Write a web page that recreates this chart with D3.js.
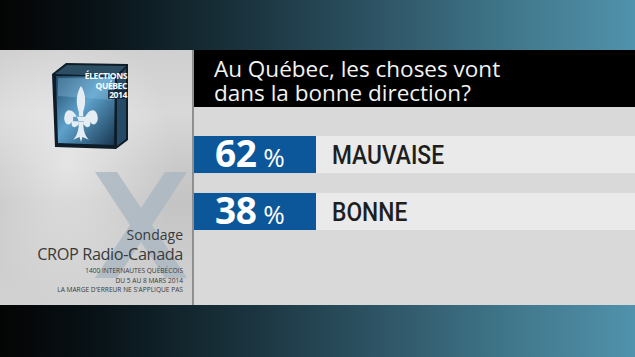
<!DOCTYPE html>
<html><head><meta charset="utf-8">
<script src="https://cdn.jsdelivr.net/npm/d3@7"></script>
<style>html,body{margin:0;padding:0;background:#000;}svg{display:block;}</style>
</head><body>
<script>
const categories = ["MAUVAISE", "BONNE"];
const values = [62, 38];
const titleLines = ["Au Québec, les choses vont", "dans la bonne direction?"];
const sourceLines = ["Sondage", "CROP Radio-Canada"];
const noteLines = ["1400 INTERNAUTES QUÉBÉCOIS", "DU 5 AU 8 MARS 2014", "LA MARGE D'ERREUR NE S'APPLIQUE PAS"];
const logoLines = ["ÉLECTIONS", "QUÉBEC", "2014"];

(function () {
const W = 635, H = 357;
const svg = d3.select("body").append("svg").attr("width", W).attr("height", H);
const defs = svg.append("defs");

const bg = defs.append("linearGradient").attr("id", "bg").attr("x1", 0).attr("x2", 1).attr("y1", 0).attr("y2", 0);
[[0, "#040404"], [0.15, "#081217"], [0.4, "#1b3540"], [0.6, "#2e5566"], [0.8, "#40768a"], [1, "#5192ac"]]
  .forEach(([o, c]) => bg.append("stop").attr("offset", o).attr("stop-color", c));
svg.append("rect").attr("width", W).attr("height", H).attr("fill", "url(#bg)");

const lp = defs.append("linearGradient").attr("id", "lp").attr("x1", 0).attr("x2", 0).attr("y1", 0).attr("y2", 1);
[[0, "#d0d0d0"], [0.25, "#d8d8d8"], [0.45, "#cacaca"], [0.6, "#c4c4c4"], [0.8, "#cccccc"], [1, "#d2d2d2"]]
  .forEach(([o, c]) => lp.append("stop").attr("offset", o).attr("stop-color", c));
const lpr = defs.append("radialGradient").attr("id", "lpr").attr("cx", 0.35).attr("cy", 0.45).attr("r", 0.55);
lpr.append("stop").attr("offset", 0).attr("stop-color", "#ffffff").attr("stop-opacity", 0.5);
lpr.append("stop").attr("offset", 1).attr("stop-color", "#ffffff").attr("stop-opacity", 0);

const y0 = 50, y1 = 305, split = 194;
svg.append("rect").attr("x", 0).attr("y", y0).attr("width", split).attr("height", y1 - y0).attr("fill", "url(#lp)");
svg.append("rect").attr("x", 0).attr("y", y0).attr("width", split).attr("height", y1 - y0).attr("fill", "url(#lpr)");
svg.append("rect").attr("x", split - 2).attr("y", y0).attr("width", 2).attr("height", y1 - y0).attr("fill", "#8f8f8f");

// right panel
svg.append("rect").attr("x", split).attr("y", y0).attr("width", W - split).attr("height", y1 - y0).attr("fill", "#d9d9d9");
svg.append("rect").attr("x", split).attr("y", y0).attr("width", W - split).attr("height", 57).attr("fill", "#000");
svg.append("g").selectAll("text").data(titleLines).join("text")
  .attr("x", 214).attr("y", (d, i) => 77 + i * 24)
  .attr("fill", "#f2f2f2").attr("font-family", "'Open Sans', sans-serif").attr("font-size", 22.5)
  .text(d => d);

// bars
const y = d3.scaleBand().domain(categories).range([136, 230]).paddingInner(0.35);
const bw = y.bandwidth();
const rows = svg.append("g").selectAll("g").data(categories).join("g")
  .attr("transform", d => `translate(0,${y(d)})`);
rows.append("rect").attr("x", split).attr("width", W - split).attr("height", bw).attr("fill", "#eaeaea");
rows.append("rect").attr("x", split).attr("width", 122).attr("height", bw).attr("fill", "#0b5799");
rows.append("text").attr("x", 215).attr("y", bw * 0.85)
  .attr("fill", "#fff").attr("font-family", "'Open Sans', sans-serif")
  .each(function (d, i) {
    const t = d3.select(this);
    t.append("tspan").attr("font-size", 37).attr("font-weight", 700).attr("letter-spacing", -0.5).text(values[i]);
    t.append("tspan").attr("dx", 7).attr("font-size", 26).text("%");
  });
rows.append("text").attr("transform", `translate(332,${bw * 0.76}) scale(0.86,1)`)
  .attr("fill", "#1e1e1e").attr("font-family", "Roboto, sans-serif").attr("font-weight", 500).attr("font-size", 26.5)
  .text(d => d);

// big decorative X (graphic watermark)
svg.append("path")
  .attr("d", "M95,172 L117,172 L141,208 L165,172 L187,172 L152,225 L187,278 L165,278 L141,242 L117,278 L95,278 L130,225 Z")
  .attr("fill", "#a9b6c2").attr("opacity", 0.8);

// logo cube
const lg = svg.append("g");
const cube = defs.append("linearGradient").attr("id", "cube").attr("x1", 0).attr("x2", 1).attr("y1", 0).attr("y2", 1);
cube.append("stop").attr("offset", 0).attr("stop-color", "#1f4866");
cube.append("stop").attr("offset", 0.45).attr("stop-color", "#5ea2cc");
cube.append("stop").attr("offset", 1).attr("stop-color", "#173650");
lg.append("path").attr("d", "M52,74 L66,63 L128,64 L128,140 L116,149 L55,147 Z").attr("fill", "#0e1c28");
lg.append("path").attr("d", "M56,76 L115,77 L114,145 L58,143 Z").attr("fill", "url(#cube)");
lg.append("path").attr("d", "M58,78 L112,79 L112,100 L58,96 Z").attr("fill", "#8cc4e6").attr("opacity", 0.35);
lg.append("path").attr("d", "M55,74 L67,65 L126,66 L115,76 Z").attr("fill", "#3b6580").attr("opacity", 0.7);
lg.append("path").attr("d", "M117,78 L126,68 L126,139 L117,146 Z").attr("fill", "#2c5676").attr("opacity", 0.8);
lg.append("path")
  .attr("transform", "translate(63,86) scale(0.36,0.56)")
  .attr("fill", "#e4edf4")
  .attr("d", "M50,0 C38,12 34,28 44,46 L44,54 L56,54 L56,46 C66,28 62,12 50,0 Z " +
    "M42,60 C30,40 8,38 4,54 C0,66 16,74 24,64 C22,74 32,78 44,68 Z " +
    "M58,60 C70,40 92,38 96,54 C100,66 84,74 76,64 C78,74 68,78 56,68 Z " +
    "M28,55 L72,55 L72,63 L28,63 Z " +
    "M44,64 C44,80 38,90 28,96 L46,91 L50,100 L54,91 L72,96 C62,90 56,80 56,64 Z");
lg.append("rect").attr("x", 108).attr("y", 90).attr("width", 20).attr("height", 9).attr("fill", "#1a2530").attr("opacity", 0.85);
lg.selectAll("text").data(logoLines).join("text")
  .attr("x", 127).attr("y", (d, i) => 79 + i * 9.5).attr("text-anchor", "end")
  .attr("fill", "#fff").attr("font-family", "'Open Sans', sans-serif").attr("font-weight", 700)
  .attr("letter-spacing", -0.4)
  .attr("font-size", 8.5).text(d => d);

// source text
const src = svg.append("g").attr("fill", "#3a3a3a").attr("font-family", "'Open Sans', sans-serif").attr("text-anchor", "end");
src.append("text").attr("x", 183).attr("y", 240).attr("font-size", 14).text(sourceLines[0]);
src.append("text").attr("x", 183).attr("y", 260).attr("font-size", 16.3).attr("letter-spacing", -0.4).text(sourceLines[1]);
src.selectAll("text.n").data(noteLines).join("text").attr("class", "n")
  .attr("x", 183).attr("y", (d, i) => 273 + i * 9.7)
  .attr("font-size", 6.6).text(d => d);
})();
</script>
</body></html>
